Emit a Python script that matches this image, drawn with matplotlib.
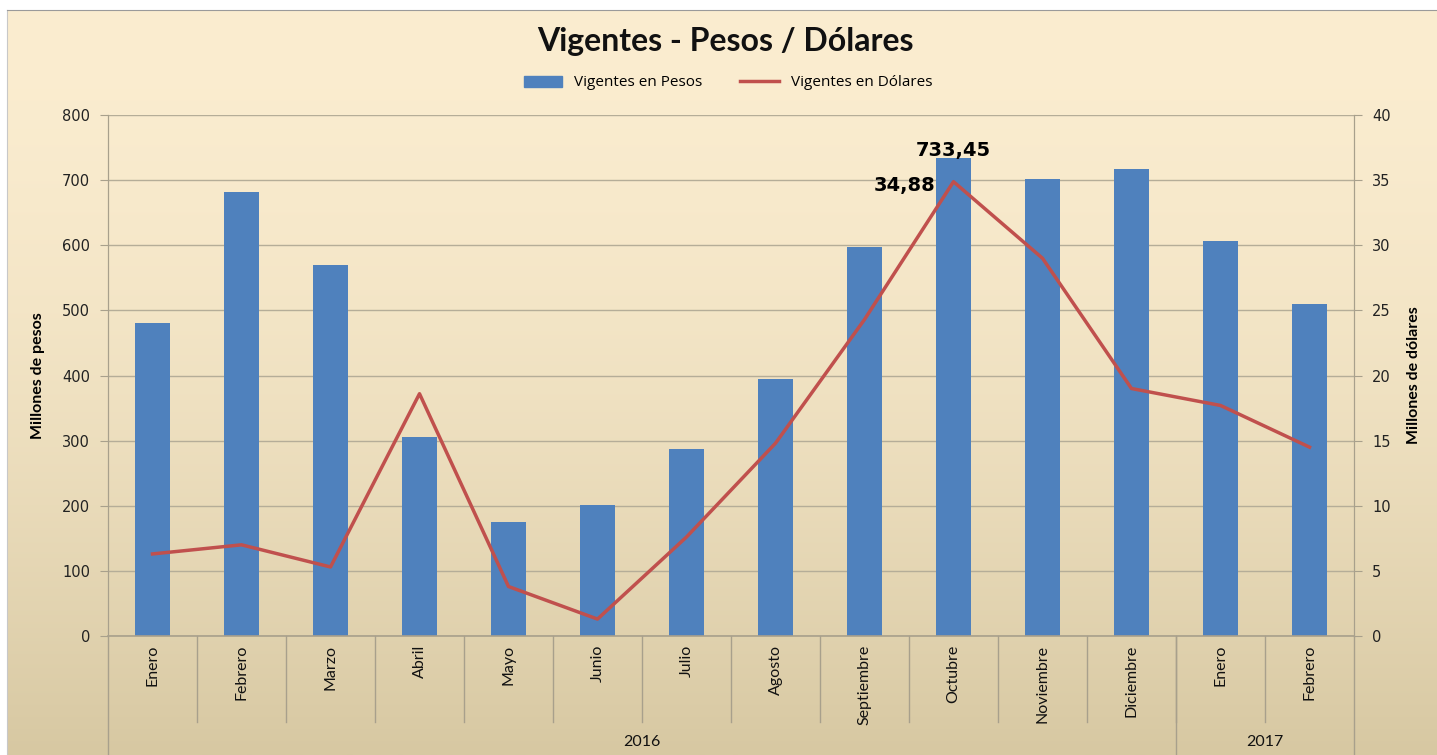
import matplotlib.pyplot as plt
import matplotlib.transforms as mtransforms
from matplotlib.patches import Patch
from matplotlib.lines import Line2D
import numpy as np

meses = ["Enero", "Febrero", "Marzo", "Abril", "Mayo", "Junio", "Julio", "Agosto",
         "Septiembre", "Octubre", "Noviembre", "Diciembre", "Enero", "Febrero"]
anios = ["2016", "2017"]
meses_por_anio = [12, 2]
pesos = [480, 682, 570, 305, 175, 201, 287, 395, 598, 733.45, 701, 717, 606, 510]
dolares = [6.3, 7.0, 5.3, 18.6, 3.8, 1.3, 7.6, 14.8, 24.3, 34.88, 29.0, 19.0, 17.7, 14.5]

W, H = 1437, 755
fig = plt.figure(figsize=(W / 100, H / 100), dpi=100)
fig.patch.set_facecolor("white")

# fondo degradado
bg = fig.add_axes([7 / W, 0, 1 - 7 / W, (H - 10) / H])
top = np.array([251, 237, 208]) / 255
bot = np.array([215, 200, 162]) / 255
t = np.linspace(0, 1, 256)[:, None]
grad = np.clip(top + (bot - top) * t ** 1.7, 0, 1)
bg.imshow(grad[:, None, :], aspect="auto", extent=[0, 1, 0, 1])
bg.set_xticks([]); bg.set_yticks([])
for s in ["right", "bottom"]:
    bg.spines[s].set_visible(False)
bg.spines["top"].set_color("#9a9a9a")
bg.spines["left"].set_color("#c8c8c8")

x0, x1, y0, y1 = 108, 1354, 636, 115
ax = fig.add_axes([x0 / W, (H - y0) / H, (x1 - x0) / W, (y0 - y1) / H])
ax.patch.set_alpha(0)
ax2 = ax.twinx()

x = np.arange(len(meses))
ax.bar(x, pesos, width=0.4, color="#4F81BD", zorder=3)
ax2.plot(x, dolares, color="#C0504D", lw=2.5, zorder=4)

ax.set_xlim(-0.5, len(meses) - 0.5)
ax.set_ylim(0, 800)
ax2.set_ylim(0, 40)
ax.set_yticks(range(0, 801, 100))
ax2.set_yticks(range(0, 41, 5))
ax.yaxis.grid(True, color="#b5ad98", lw=1, zorder=0)
ax.set_axisbelow(True)

grid_col = "#a8a08c"
for a in (ax, ax2):
    for s in a.spines.values():
        s.set_color(grid_col)
    a.spines["top"].set_visible(False)
    a.tick_params(axis="y", colors=grid_col, labelcolor="#222222", length=6,
                  labelsize=10.5, pad=7)
    for lab in a.get_yticklabels():
        lab.set_family("DejaVu Sans")
ax.set_xticks([])
ax.spines["bottom"].set_visible(False)
ax2.spines["bottom"].set_visible(False)

# ejes categoricos multinivel
trans = mtransforms.blended_transform_factory(ax.transData, ax.transAxes)
bot_frac = -(H - y0) / (y0 - y1)
sep_frac = -(722 - y0) / (y0 - y1)
ax.plot([-0.5, len(meses) - 0.5], [0, 0], transform=trans, color=grid_col,
        lw=1.2, clip_on=False, zorder=5)
for i in range(1, len(meses)):
    ax.plot([i - 0.5, i - 0.5], [0, sep_frac], transform=trans, color=grid_col,
            lw=1, clip_on=False)
for xx in (-0.5, len(meses) - 0.5):
    ax.plot([xx, xx], [0, bot_frac], transform=trans, color=grid_col, lw=1,
            clip_on=False)
for i, m in enumerate(meses):
    ax.text(i, -0.017, m, transform=trans, rotation=90, ha="center", va="top",
            fontsize=11.5, family="Lato", color="#111111")
start = 0
for anio, n in zip(anios, meses_por_anio):
    end = start + n
    if end < len(meses):
        ax.plot([end - 0.5, end - 0.5], [0, bot_frac], transform=trans,
                color=grid_col, lw=1, clip_on=False)
    ax.text((start + end - 1) / 2, -(742 - y0) / (y0 - y1), anio, transform=trans,
            ha="center", va="center", fontsize=11.5, family="Lato", color="#111111")
    start = end

ax.set_ylabel("Millones de pesos", fontsize=11.5, fontweight="bold", family="Lato",
              labelpad=12)
ax2.set_ylabel("Millones de dólares", fontsize=11.5, fontweight="bold", family="Lato",
               labelpad=12)

imax = int(np.argmax(pesos))
ax.annotate(f"{pesos[imax]:.2f}".replace(".", ","), (x[imax], pesos[imax]),
            xytext=(0, -1), textcoords="offset points", ha="center", va="bottom",
            fontsize=14, fontweight="bold", zorder=6)
ax2.annotate(f"{dolares[imax]:.2f}".replace(".", ","), (x[imax], dolares[imax]),
             xytext=(-13, -3), textcoords="offset points", ha="right", va="center",
             fontsize=14, fontweight="bold", zorder=6)

fig.text(725 / W, 1 - 42 / H, "Vigentes - Pesos / Dólares", ha="center", va="center",
         fontsize=23, fontweight="bold", family="Lato", color="#111111")
handles = [Patch(color="#4F81BD"), Line2D([], [], color="#C0504D", lw=2.5)]
fig.legend(handles, ["Vigentes en Pesos", "Vigentes en Dólares"], loc="center",
           bbox_to_anchor=(728 / W, 1 - 83 / H), ncol=2, frameon=False,
           prop={"family": "Open Sans", "size": 11}, handlelength=2.5,
           handleheight=0.7, columnspacing=2.5)

fig.savefig("out.png", dpi=100)
